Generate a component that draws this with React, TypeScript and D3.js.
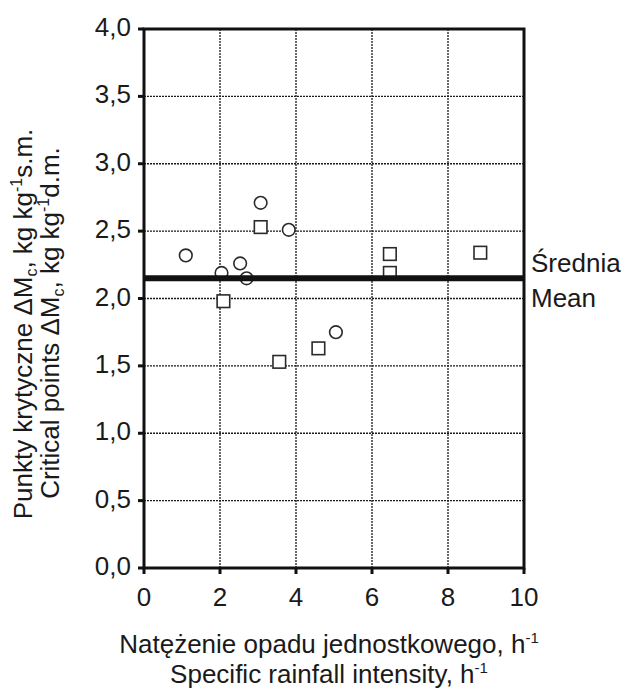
import React from "react";
import * as d3 from "d3";

const circleX = [1.1, 2.04, 2.53, 2.7, 3.07, 3.81, 5.05];
const circleY = [2.32, 2.19, 2.26, 2.15, 2.71, 2.51, 1.75];
const squareX = [2.09, 3.07, 3.56, 4.59, 6.47, 6.47, 8.85];
const squareY = [1.98, 2.53, 1.53, 1.63, 2.33, 2.19, 2.34];
const meanValue = 2.15;
const xTicks = [0, 2, 4, 6, 8, 10];
const yTicks = [0, 0.5, 1, 1.5, 2, 2.5, 3, 3.5, 4];
const meanLabels = ["Średnia", "Mean"];

const W = 625;
const H = 689;
const FONT = "'Liberation Sans', Arial, Helvetica, sans-serif";

export default function App() {
  const x = d3.scaleLinear().domain([0, 10]).range([144, 524]);
  const y = d3.scaleLinear().domain([0, 4]).range([568, 29]);
  const fmt = (v: number) => d3.format(".1f")(v).replace(".", ",");
  const [x0, x1] = x.range();
  const [y0, y1] = y.range();
  const mk = "#2a2a2a";

  return (
    <svg
      width={W}
      height={H}
      style={{ position: "absolute", left: 0, top: 0, background: "#fff" }}
      fontFamily={FONT}
    >
      <rect x={0} y={0} width={W} height={H} fill="#fff" />
      {/* grid */}
      {xTicks.filter((t) => t > 0 && t < 10).map((t) => (
        <line key={"gx" + t} x1={x(t)} x2={x(t)} y1={y1} y2={y0} stroke="#1a1a1a" strokeWidth={1.3} strokeDasharray="2,1" />
      ))}
      {yTicks.filter((t) => t > 0 && t < 4).map((t) => (
        <line key={"gy" + t} x1={x0} x2={x1} y1={y(t)} y2={y(t)} stroke="#1a1a1a" strokeWidth={1.3} strokeDasharray="2,1" />
      ))}
      {/* frame */}
      <rect x={x0} y={y1} width={x1 - x0} height={y0 - y1} fill="none" stroke="#111" strokeWidth={3} />
      {/* ticks */}
      {xTicks.map((t) => (
        <line key={"tx" + t} x1={x(t)} x2={x(t)} y1={y0} y2={y0 + 6} stroke="#111" strokeWidth={3} />
      ))}
      {yTicks.map((t) => (
        <line key={"ty" + t} x1={x0 - 6} x2={x0} y1={y(t)} y2={y(t)} stroke="#111" strokeWidth={3} />
      ))}
      {/* tick labels */}
      {xTicks.map((t) => (
        <text key={"lx" + t} x={x(t)} y={y0 + 38} textAnchor="middle" fontSize={26} fill="#1a1a1a">
          {t}
        </text>
      ))}
      {yTicks.map((t) => (
        <text key={"ly" + t} x={131} y={y(t) + 7} textAnchor="end" fontSize={26} fill="#1a1a1a">
          {fmt(t)}
        </text>
      ))}
      {/* markers */}
      {circleX.map((cx, i) => (
        <circle key={"c" + i} cx={x(cx)} cy={y(circleY[i])} r={6.3} fill="#fff" stroke={mk} strokeWidth={1.6} />
      ))}
      {squareX.map((sx, i) => (
        <rect key={"s" + i} x={x(sx) - 6.3} y={y(squareY[i]) - 6.3} width={12.6} height={12.6} fill="#fff" stroke={mk} strokeWidth={1.6} />
      ))}
      {/* mean line */}
      <line x1={x0} x2={x1} y1={y(meanValue)} y2={y(meanValue)} stroke="#111" strokeWidth={6} />
      <text x={531} y={y(meanValue) - 6} fontSize={26} fill="#1a1a1a">{meanLabels[0]}</text>
      <text x={531} y={y(meanValue) + 29} fontSize={26} fill="#1a1a1a">{meanLabels[1]}</text>
      {/* x title */}
      <text x={329} y={653} textAnchor="middle" fontSize={26} fill="#1a1a1a">
        Natężenie opadu jednostkowego, h<tspan dy={-10} fontSize={15}>-1</tspan>
      </text>
      <text x={329} y={683} textAnchor="middle" fontSize={26} fill="#1a1a1a">
        Specific rainfall intensity, h<tspan dy={-10} fontSize={15}>-1</tspan>
      </text>
      {/* y title */}
      <g transform="translate(32,324) rotate(-90)">
        <text x={0} y={0} textAnchor="middle" fontSize={26} fill="#1a1a1a">
          Punkty krytyczne ΔM<tspan dy={5} fontSize={16}>c</tspan>
          <tspan dy={-5}>, kg kg</tspan>
          <tspan dy={-10} fontSize={16}>-1</tspan>
          <tspan dy={10}>s.m.</tspan>
        </text>
      </g>
      <g transform="translate(59,323) rotate(-90)">
        <text x={0} y={0} textAnchor="middle" fontSize={26} fill="#1a1a1a">
          Critical points ΔM<tspan dy={5} fontSize={16}>c</tspan>
          <tspan dy={-5}>, kg kg</tspan>
          <tspan dy={-10} fontSize={16}>-1</tspan>
          <tspan dy={10}>d.m.</tspan>
        </text>
      </g>
    </svg>
  );
}
